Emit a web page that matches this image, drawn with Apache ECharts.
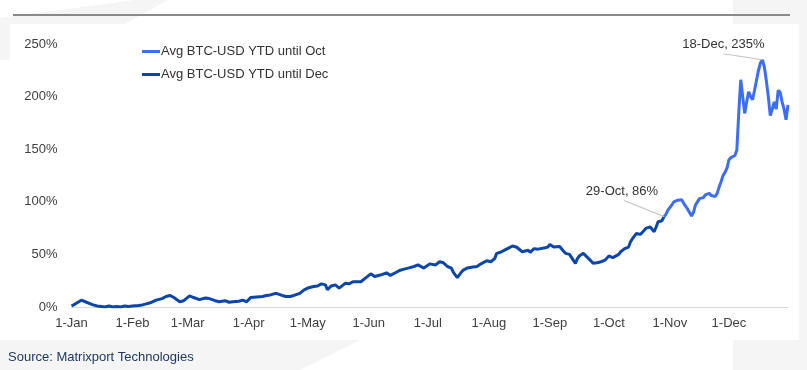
<!DOCTYPE html>
<html>
<head>
<meta charset="utf-8">
<script src="https://cdn.jsdelivr.net/npm/echarts@6/dist/echarts.min.js"></script>
<style>
html,body{margin:0;padding:0;background:#ffffff;}
#chart{width:807px;height:370px;}
</style>
</head>
<body>
<div id="chart"></div>
<script>
// ---- Data ----
const YEAR = 2023;
const monthNames = ['Jan','Feb','Mar','Apr','May','Jun','Jul','Aug','Sep','Oct','Nov','Dec'];

// Avg BTC-USD YTD until Dec (dark line, Jan -> 29-Oct)
const darkDates = ['01-01','01-03','01-06','01-08','01-10','01-12','01-14','01-16','01-18','01-20','01-22','01-24','01-26','01-28','01-30',
  '02-01','02-04','02-06','02-08','02-10','02-13','02-16','02-18','02-20','02-22','02-25','02-27',
  '03-02','03-04','03-07','03-10','03-12','03-15','03-17','03-20','03-22','03-24','03-27','03-29','03-31',
  '04-02','04-05','04-08','04-10','04-12','04-15','04-18','04-20','04-22','04-24','04-27','04-29',
  '05-01','05-04','05-06','05-08','05-10','05-11','05-13','05-15','05-17','05-20','05-22','05-24','05-26','05-28','05-30',
  '06-02','06-04','06-06','06-08','06-10','06-12','06-13','06-15','06-17','06-19','06-21','06-24','06-26','06-27','06-29','06-30',
  '07-02','07-03','07-05','07-07','07-09','07-11','07-13','07-14','07-16','07-18','07-19','07-21','07-22','07-24','07-26','07-28','07-29','07-31',
  '08-02','08-03','08-04','08-05','08-07','08-09','08-11','08-13','08-15','08-16','08-18','08-19','08-21','08-22','08-24','08-26','08-27','08-29','08-31',
  '09-01','09-03','09-04','09-06','09-08','09-09','09-11','09-12','09-14','09-15','09-16','09-18','09-19','09-21','09-23','09-25','09-27','09-28','09-29',
  '10-01','10-03','10-04','10-06','10-07','10-09','10-11','10-12','10-13','10-15','10-17','10-18','10-20','10-22','10-23','10-24','10-25','10-26','10-28','10-29'];
const darkValues = [1,3,6.5,5,3.5,2,1,0.5,0,1,0,0.5,0,1,0.5,
  1,1.5,2,3,4,6.5,8,10,11,9,5,6,
  10.5,9,7,8.5,8,6,5,6,4.5,5,5.5,6.5,5,
  9,9.5,10,11,11.5,13,11,10,10,11,13,16,
  18,19.5,20,22,21,16.5,20,21,18,22.5,22,24,24,24,27,
  31.5,29,30,31,32.5,30,28.5,33,35,36,37,38.5,40,40,37,37.5,
  41,41.5,40,43,42,38.5,37,33,28,33,35,37,38.5,38,38.5,41,42,44,
  43,41.5,46,51,52,54,56,58,57,57.5,52.5,53,54,52,55.5,55,55.5,56,57,
  59.5,57,55.5,57.5,53,51,50,49.5,41.5,46,48.5,51,50,45.5,41.5,42,43,42,44.5,
  48.5,47,47,50,52.5,55.5,57,62,65,70,69,70,75,76,76,71.5,76,81,82,86];

// Avg BTC-USD YTD until Oct (light line, 29-Oct -> end of year)
const lightDates = ['10-29','10-30','10-31','11-02','11-03','11-04','11-05','11-07','11-08','11-10','11-12','11-13','11-14','11-16','11-18','11-19','11-20','11-21','11-22','11-24','11-25','11-26','11-27','11-28','11-29','11-30',
  '12-01','12-02','12-03','12-04','12-05','12-06','12-07','12-08','12-09','12-10','12-11','12-12','12-13','12-14','12-15','12-16','12-17','12-18','12-19','12-20','12-21','12-22','12-23','12-24','12-25','12-26','12-27','12-28','12-29','12-30','12-31'];
const lightValues = [86,88,92,97,100,100.5,101.5,102,98.5,93,86.5,90,97,103,104,106.5,105,108,106,105,108,114,119,125,128,132,
  140,142,143,144,149,185,216,200,184,195,204.5,200,197,206,205,225,232,235,228,215,200,182,188,195,188,206,204,195,188,178,192];

const yTicks = [0,50,100,150,200,250];
const annotationDates = ['10-29','12-18'];
const seriesNames = ['Avg BTC-USD YTD until Oct','Avg BTC-USD YTD until Dec'];
// ---------------------------------------

function toTime(md){ const p = md.split('-').map(Number); return new Date(YEAR, p[0]-1, p[1]).getTime(); }
function fmtDate(t){ const d = new Date(t); return d.getDate() + '-' + monthNames[d.getMonth()]; }
const DAY = 86400000;

const darkData = darkDates.map((d,i)=>[toTime(d), darkValues[i]]);
const lightData = lightDates.map((d,i)=>[toTime(d), lightValues[i]]);
const annData = annotationDates.map(md=>{
  let i = lightDates.indexOf(md);
  let v = i >= 0 ? lightValues[i] : darkValues[darkDates.indexOf(md)];
  return [toTime(md), v];
});
// pixel offsets from the annotated point: [leader end dx, dy, text centre dx, dy]
const annOffsets = [[-40,-16,-42,-25],[-39,-6,-39,-15]];

const FONT = '"Liberation Sans", Arial, sans-serif';
const chart = echarts.init(document.getElementById('chart'), null, {renderer:'canvas'});
chart.setOption({
  animation:false,
  backgroundColor:'#ffffff',
  textStyle:{fontFamily:FONT},
  graphic:[
    {type:'polygon', z:-10, silent:true, shape:{points:[[733,0],[807,0],[807,370],[733,370],[733,340],[799,340],[799,24],[733,24]]}, style:{fill:'#f5f5f5'}},
    {type:'polygon', z:-10, silent:true, shape:{points:[[0,340],[360,340],[300,370],[0,370]]}, style:{fill:'#f5f5f5'}},
    {type:'polygon', z:-10, silent:true, shape:{points:[[0,24],[10,24],[10,60],[0,60]]}, style:{fill:'#f5f5f5'}},
    {type:'polygon', z:-10, silent:true, shape:{points:[[0,18],[135,0],[168,0],[125,24],[0,24]]}, style:{fill:'#f5f5f5'}},
    {type:'line', silent:true, shape:{x1:13,y1:15,x2:790,y2:15}, style:{stroke:'#8a8a8a', lineWidth:2}},
    {type:'text', silent:true, x:8, y:357, style:{text:'Source: Matrixport Technologies', fill:'#1f3864', font:'13px ' + FONT, textVerticalAlign:'middle'}}
  ],
  grid:{left:71.5, right:19, top:44, bottom:63, containLabel:false, outerBoundsMode:'none'},
  legend:{
    orient:'vertical', left:142, top:45, padding:0, itemWidth:18, itemHeight:3, itemGap:10,
    textStyle:{fontSize:13, color:'#333', fontFamily:FONT, padding:[0,0,0,-4]},
    data:[{name:seriesNames[0], icon:'rect'},{name:seriesNames[1], icon:'rect'}]
  },
  xAxis:{
    type:'time', min:toTime('01-01'), max:toTime('12-31'),
    minInterval:28*DAY, maxInterval:31*DAY,
    axisLine:{show:true, lineStyle:{color:'#d9d9d9', width:1}},
    axisTick:{show:false},
    splitLine:{show:false},
    axisLabel:{fontSize:13, color:'#404040', margin:10, fontFamily:FONT, formatter:(v)=>fmtDate(v), hideOverlap:false}
  },
  yAxis:{
    type:'value', min:yTicks[0], max:yTicks[yTicks.length-1], interval:yTicks[1]-yTicks[0],
    axisLine:{show:false}, axisTick:{show:false}, splitLine:{show:false},
    axisLabel:{fontSize:13, color:'#404040', margin:14, fontFamily:FONT, formatter:'{value}%'}
  },
  series:[
    {name:seriesNames[0], type:'line', data:lightData, showSymbol:false, symbol:'none', smooth:false,
     lineStyle:{color:'#3b6ef5', width:3}, itemStyle:{color:'#3b6ef5'}, z:2},
    {name:seriesNames[1], type:'line', data:darkData, showSymbol:false, symbol:'none', smooth:false,
     lineStyle:{color:'#0c46aa', width:3}, itemStyle:{color:'#0c46aa'}, z:3},
    {name:'annotations', type:'custom', data:annData, z:5, silent:true,
     renderItem:(params, api)=>{
       const pt = api.coord([api.value(0), api.value(1)]);
       const o = annOffsets[params.dataIndex];
       const txt = fmtDate(api.value(0)) + ', ' + api.value(1) + '%';
       return {type:'group', children:[
         {type:'line', shape:{x1:pt[0], y1:pt[1], x2:pt[0]+o[0], y2:pt[1]+o[1]}, style:{stroke:'#c4c4c4', lineWidth:1.2}},
         {type:'text', x:pt[0]+o[2], y:pt[1]+o[3], style:{text:txt, fill:'#333', font:'13px ' + FONT, align:'center', verticalAlign:'middle'}}
       ]};
     }
    }
  ]
});
</script>
</body>
</html>
